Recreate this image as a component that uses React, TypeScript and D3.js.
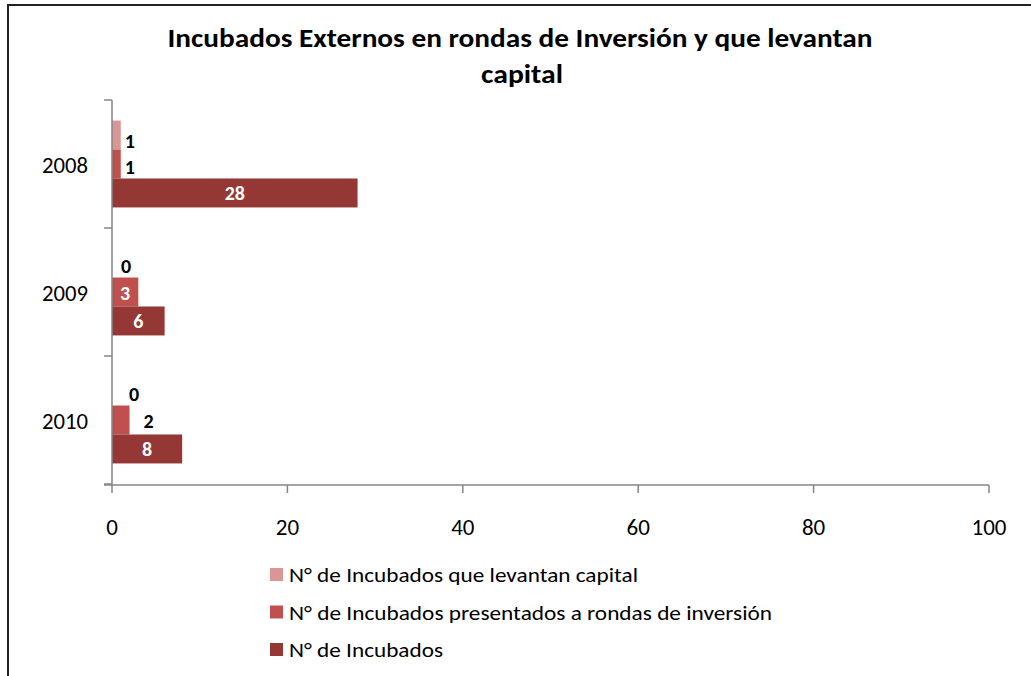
import React from "react";
import * as d3 from "d3";

const categories = ["2008", "2009", "2010"];
const seriesNames = [
  "N° de Incubados que levantan capital",
  "N° de Incubados presentados a rondas de inversión",
  "N° de Incubados",
];
const levantanCapital = [1, 0, 0];
const presentadosRondas = [1, 3, 2];
const incubados = [28, 6, 8];
const xTicks = [0, 20, 40, 60, 80, 100];
const titleLines = ["Incubados Externos en rondas de Inversión y que levantan", "capital"];

const colors = ["#D99694", "#C0504D", "#953735"];
const seriesValues = [levantanCapital, presentadosRondas, incubados];

// label nudges for outside-end labels (style only)
const outsideNudge: Record<string, [number, number]> = {
  "2008|0": [9, 6],
  "2008|1": [9, 3],
  "2009|0": [14, 3],
  "2010|0": [22, 3],
  "2010|1": [19, 1],
};

const FONT = "Carlito, Calibri, Lato, 'Open Sans', sans-serif";

export default function App() {
  const W = 1031, H = 676;
  const x = d3.scaleLinear().domain([0, 100]).range([112, 989]);
  const y = d3.scaleBand().domain(categories).range([100, 484]).padding(0);
  const inner = d3
    .scaleBand()
    .domain(["0", "1", "2"])
    .range([0, y.bandwidth()])
    .paddingOuter(0.71)
    .paddingInner(0);
  const axisColor = "#868686";
  const bw = inner.bandwidth();

  const legendWidths = [349, 483, 154];

  return (
    <svg width={W} height={H} style={{ position: "absolute", left: 0, top: 0, background: "#fff" }}>
      <rect x={0} y={0} width={W} height={H} fill="#fff" />
      <rect x={8} y={5} width={1040} height={700} fill="none" stroke="#222" strokeWidth={2} />
      {/* title */}
      <text x={520} y={47} textAnchor="middle" fontFamily={FONT} fontWeight="bold" fontSize={26} fill="#000" textLength={705} lengthAdjust="spacingAndGlyphs">
        {titleLines[0]}
      </text>
      <text x={522} y={83} textAnchor="middle" fontFamily={FONT} fontWeight="bold" fontSize={26} fill="#000" textLength={82} lengthAdjust="spacingAndGlyphs">
        {titleLines[1]}
      </text>

      {/* bars */}
      {categories.map((c, ci) =>
        seriesValues.map((vals, si) => {
          const v = vals[ci];
          const y0 = (y(c) as number) + (inner(String(si)) as number);
          const x0 = x(0);
          const x1 = x(v);
          const w = x1 - x0;
          const inside = w > 22;
          const key = `${c}|${si}`;
          const nudge = outsideNudge[key] || [6, 2];
          const lx = inside ? (x0 + x1) / 2 : x1 + nudge[0];
          const ly = y0 + bw / 2 + (inside ? 1 : nudge[1]) + 6.5;
          return (
            <g key={key}>
              {v > 0 && <rect x={x0} y={y0} width={w} height={bw} fill={colors[si]} />}
              <text
                x={lx}
                y={ly}
                textAnchor="middle"
                fontFamily={FONT}
                fontWeight="bold"
                fontSize={20}
                fill={inside ? "#fff" : "#000"}
              >
                {v}
              </text>
            </g>
          );
        })
      )}

      {/* y axis */}
      <line x1={x(0)} x2={x(0)} y1={100} y2={485} stroke={axisColor} strokeWidth={1.5} />
      {[...categories.map((c) => y(c) as number), 484].map((t, i) => (
        <line key={i} x1={x(0) - 8} x2={x(0)} y1={t} y2={t} stroke={axisColor} strokeWidth={1.5} />
      ))}
      {categories.map((c) => (
        <text key={c} x={88} y={(y(c) as number) + y.bandwidth() / 2 + 8.5} textAnchor="end" fontFamily={FONT} fontSize={23} fill="#000" textLength={46} lengthAdjust="spacingAndGlyphs">
          {c}
        </text>
      ))}

      {/* x axis */}
      <line x1={x(0) - 8} x2={x(100)} y1={485} y2={485} stroke={axisColor} strokeWidth={1.5} />
      {xTicks.map((t) => (
        <g key={t}>
          <line x1={x(t)} x2={x(t)} y1={485} y2={493} stroke={axisColor} strokeWidth={1.5} />
          <text x={x(t)} y={535} textAnchor="middle" fontFamily={FONT} fontSize={23} fill="#000">
            {t}
          </text>
        </g>
      ))}

      {/* legend */}
      {seriesNames.map((n, i) => {
        const cy = 574.5 + i * 37.5;
        return (
          <g key={n}>
            <rect x={270} y={cy - 6.5} width={13} height={13} fill={colors[i]} />
            <text x={289} y={cy + 7.5} fontFamily={FONT} fontSize={21} fill="#000" textLength={legendWidths[i]} lengthAdjust="spacingAndGlyphs">
              {n}
            </text>
          </g>
        );
      })}
    </svg>
  );
}
